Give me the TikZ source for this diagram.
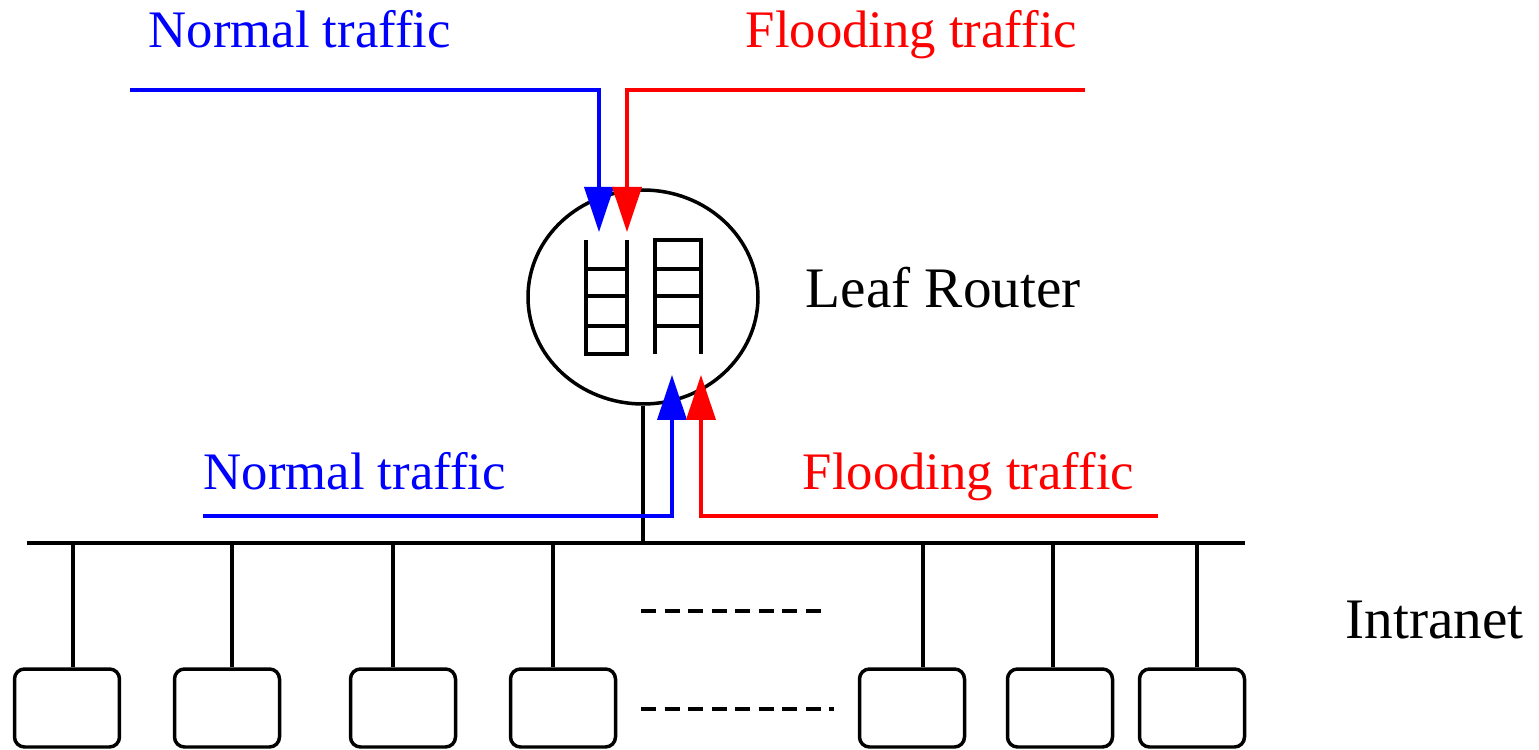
\documentclass[tikz,border=0pt]{standalone}
\usepackage{fontspec}
\setmainfont{Liberation Serif}
\usetikzlibrary{positioning, calc, arrows.meta, shapes.geometric}

\begin{document}
\begin{tikzpicture}[x=0.1mm, y=-0.1mm, >={Triangle[length=4.5mm, width=2.9mm]},
    wire/.style={line width=0.35mm},
    normal/.style={line width=0.38mm, blue, ->},
    flood/.style={line width=0.38mm, red, ->},
    lbl/.style={font=\fontsize{15}{18}\selectfont, inner sep=0pt, anchor=base west},
    biglbl/.style={lbl, font=\fontsize{16.3}{19}\selectfont},
    host/.style={draw, line width=0.35mm, rounded corners=1mm, minimum width=10.5mm, minimum height=7.8mm, inner sep=0pt}]
    \useasboundingbox (0,0) rectangle (1539,750);

    % Router with its two queues
    \node[draw, ellipse, line width=0.35mm, minimum width=23mm, minimum height=21.4mm, inner sep=0pt] (router) at (643,297) {};
    \draw[wire] (586,240) -- (586,354) -- (627,354) -- (627,240);
    \draw[wire] (655,354) -- (655,240) -- (701,240) -- (701,354);
    \foreach \y in {269,296,326} {
        \draw[wire] (586,\y) -- (627,\y) (655,\y) -- (701,\y);
    }
    \node[biglbl] (routerlabel) at (805,308) {Leaf Router};

    % Bus of the intranet
    \coordinate (busL) at (27,543);
    \coordinate (busR) at (1245,543);
    \draw[wire] (busL) -- (busR);
    \draw[wire] (router.south) -- (router.south |- busL);
    \node[biglbl] (intranet) at (1345,638) {Intranet};

    % Hosts
    \foreach \c/\s [count=\i] in {67/73, 227/232, 403/393, 563/553, 912/923, 1060/1053, 1192/1197} {
        \node[host] (h\i) at (\c,708) {};
        \draw[wire] (\s,0 |- busL) -- (\s,0 |- h\i.north);
    }
    \draw[wire, dash pattern=on 1.5mm off 0.85mm] (641,611) -- (822,611);
    \draw[wire, dash pattern=on 1.5mm off 0.85mm] (641,709) -- (834,709);

    % Traffic from outside
    \coordinate (nTop) at (130,90);
    \coordinate (nTip) at (599,232);
    \coordinate (fTop) at (1085,90);
    \coordinate (fTip) at (627,232);
    \draw[normal] (nTop) -| (nTip);
    \draw[flood] (fTop) -| (fTip);
    \node[lbl, text=blue] (nLabTop) at (148,48) {Normal traffic};
    \node[lbl, text=red] (fLabTop) at (745,48) {Flooding traffic};

    % Traffic from the intranet
    \coordinate (nBot) at (203,516);
    \coordinate (nUp) at (672,375);
    \coordinate (fBot) at (1158,516);
    \coordinate (fUp) at (701,375);
    \draw[normal] (nBot) -| (nUp);
    \draw[flood] (fBot) -| (fUp);
    \node[lbl, text=blue] (nLabBot) at (203,490) {Normal traffic};
    \node[lbl, text=red] (fLabBot) at (802,490) {Flooding traffic};
\end{tikzpicture}
\end{document}
